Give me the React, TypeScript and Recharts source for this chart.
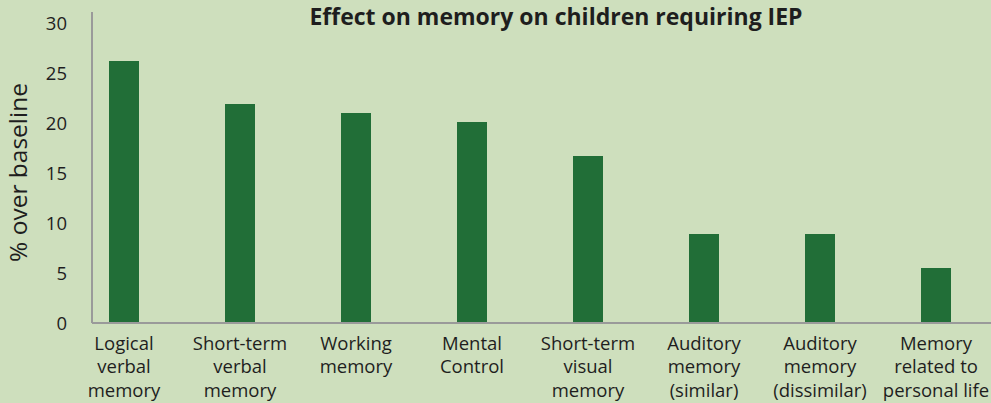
import React from "react";
import { BarChart, Bar, XAxis, YAxis } from "recharts";

const categories = [
  "Logical\nverbal\nmemory",
  "Short-term\nverbal\nmemory",
  "Working\nmemory",
  "Mental\nControl",
  "Short-term\nvisual\nmemory",
  "Auditory\nmemory\n(similar)",
  "Auditory\nmemory\n(dissimilar)",
  "Memory\nrelated to\npersonal life",
];
const values = [26.2, 21.9, 21.0, 20.1, 16.7, 8.9, 8.9, 5.5];
const yTicks = [0, 5, 10, 15, 20, 25, 30];

const data = categories.map((name, i) => ({ name, value: values[i] }));

const FONT = "'Open Sans', sans-serif";
const TEXT = "#1e1e1e";

function CategoryTick(props: any) {
  const { x, payload } = props;
  const lines = String(payload.value).split("\n");
  // baseline of first line sits ~27px under the axis line
  const y0 = 323 + 27;
  return (
    <text x={x} y={y0} textAnchor="middle" fill={TEXT} fontSize={18.5} fontFamily={FONT}>
      {lines.map((l, i) => (
        <tspan key={i} x={x} dy={i === 0 ? 0 : 23.3}>
          {l}
        </tspan>
      ))}
    </text>
  );
}

function YLabel(props: any) {
  const { viewBox } = props;
  const cx = viewBox.x + 27;
  const cy = 172.5;
  return (
    <text
      x={cx}
      y={cy}
      transform={`rotate(-90 ${cx} ${cy})`}
      textAnchor="middle"
      fill={TEXT}
      fontSize={24.5}
      fontFamily={FONT}
    >
      % over baseline
    </text>
  );
}

export default function App() {
  return (
    <div style={{ position: "absolute", left: 0, top: 0, width: 991, height: 403, background: "#cedfbd", overflow: "hidden" }}>
      <div
        style={{
          position: "absolute",
          left: 0,
          width: 1112,
          top: 0,
          textAlign: "center",
          fontFamily: FONT,
          fontWeight: 700,
          fontSize: 23,
          color: TEXT,
        }}
      >
        Effect on memory on children requiring IEP
      </div>
      <BarChart width={991} height={403} data={data} margin={{ top: 12, right: 0, bottom: 0, left: 0 }}>
        <XAxis
          dataKey="name"
          height={80}
          interval={0}
          tick={<CategoryTick />}
          tickLine={false}
          axisLine={{ stroke: "#9a9a9a", strokeWidth: 2 }}
          padding={{ left: -26, right: -3 }}
        />
        <YAxis
          width={92}
          domain={[0, 31.1]}
          ticks={yTicks}
          tickLine={false}
          tickMargin={19}
          axisLine={{ stroke: "#9a9a9a", strokeWidth: 2 }}
          tick={{ fill: TEXT, fontSize: 18.5, fontFamily: FONT }}
          label={<YLabel />}
        />
        <Bar dataKey="value" fill="#216e37" barSize={30} isAnimationActive={false} />
      </BarChart>
    </div>
  );
}
